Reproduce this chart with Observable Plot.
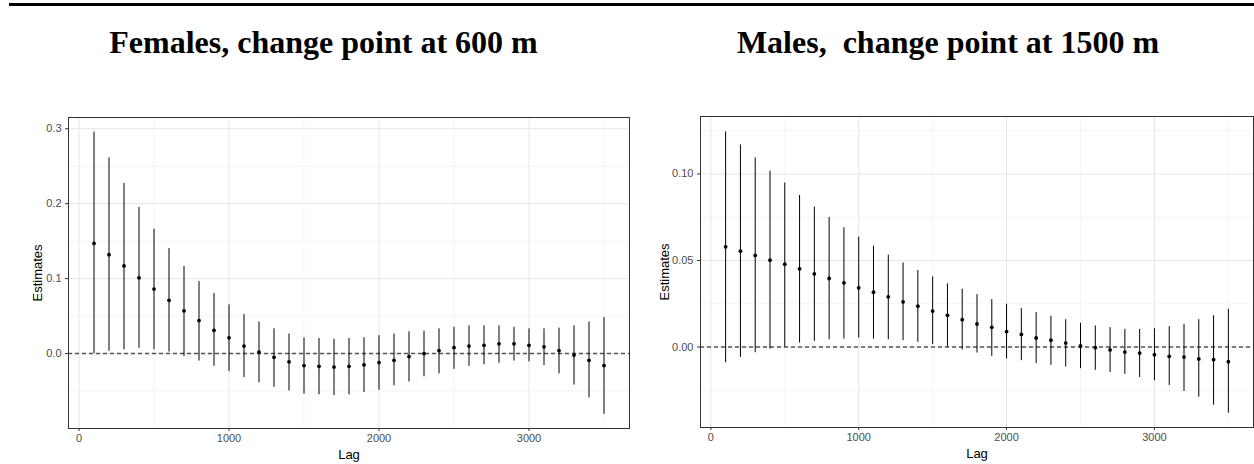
<!DOCTYPE html>
<html>
<head>
<meta charset="utf-8">
<script src="https://cdn.jsdelivr.net/npm/d3@7"></script>
<script src="https://cdn.jsdelivr.net/npm/@observablehq/plot@0.6"></script>
<style>
  html, body { margin: 0; padding: 0; background: white; }
  #page { position: relative; width: 1254px; height: 464px; overflow: hidden; background: white; }
  #rule { position: absolute; left: 9px; top: 3px; width: 1245px; height: 3px; background: black; }
  .title { position: absolute; top: 26px; font-family: "Liberation Serif", "Times New Roman", serif; font-weight: bold;
           font-size: 32px; line-height: 32px; text-align: center; white-space: pre; color: black; }
  .panel { position: absolute; top: 100px; }
</style>
</head>
<body>
<div id="page">
  <div id="rule"></div>
  <div class="title" id="t1" style="left:0px; width:647px;"></div>
  <div class="title" id="t2" style="left:642px; width:612px;"></div>
  <div class="panel" id="p1" style="left:0px;"></div>
  <div class="panel" id="p2" style="left:640px;"></div>
</div>
<script>
// ---- data ----
const titles = ["Females, change point at 600 m", "Males,  change point at 1500 m"];
const xLabel = "Lag";
const yLabel = "Estimates";

const lags = [100,200,300,400,500,600,700,800,900,1000,1100,1200,1300,1400,1500,1600,1700,1800,
              1900,2000,2100,2200,2300,2400,2500,2600,2700,2800,2900,3000,3100,3200,3300,3400,3500];

const femaleEst = [0.147,0.132,0.117,0.101,0.086,0.071,0.057,0.044,0.031,0.021,
                   0.010,0.002,-0.005,-0.011,-0.016,-0.017,-0.018,-0.017,-0.015,-0.012,
                   -0.009,-0.004,0.000,0.004,0.008,0.010,0.011,0.013,0.013,0.011,
                   0.009,0.004,-0.002,-0.009,-0.016];
const femaleHi  = [0.2955,0.261,0.227,0.195,0.166,0.140,0.116,0.096,0.080,0.065,
                   0.052,0.042,0.033,0.026,0.021,0.020,0.019,0.020,0.021,0.024,
                   0.026,0.029,0.030,0.033,0.035,0.037,0.037,0.037,0.035,0.033,
                   0.033,0.034,0.037,0.042,0.048];
const femaleLo  = [0.000,0.003,0.005,0.007,0.005,0.002,-0.004,-0.010,-0.017,-0.024,
                   -0.032,-0.039,-0.045,-0.050,-0.054,-0.055,-0.056,-0.055,-0.052,-0.049,
                   -0.043,-0.038,-0.031,-0.027,-0.021,-0.017,-0.015,-0.013,-0.010,-0.011,
                   -0.016,-0.027,-0.042,-0.059,-0.081];

const maleEst = [0.0579,0.0554,0.0529,0.0502,0.0479,0.0452,0.0423,0.0396,0.0371,0.0342,
                 0.0317,0.0290,0.0261,0.0236,0.0208,0.0183,0.0158,0.0133,0.0114,0.0089,
                 0.0073,0.0052,0.0039,0.0023,0.0006,-0.0004,-0.0017,-0.0029,-0.0035,-0.0044,
                 -0.0054,-0.0058,-0.0069,-0.0073,-0.0085];
const maleHi  = [0.1243,0.1168,0.1093,0.1017,0.0948,0.0876,0.0809,0.0749,0.0689,0.0635,
                 0.0583,0.0531,0.0486,0.0442,0.0405,0.0365,0.0334,0.0303,0.0274,0.0247,
                 0.0222,0.0199,0.0178,0.0158,0.0137,0.0122,0.0112,0.0102,0.0102,0.0106,
                 0.0118,0.0131,0.0158,0.0181,0.0218];
const maleLo  = [-0.0091,-0.0060,-0.0033,-0.0012,0.0000,0.0023,0.0033,0.0042,0.0046,0.0052,
                 0.0046,0.0042,0.0037,0.0027,0.0014,0.0000,-0.0017,-0.0035,-0.0054,-0.0069,
                 -0.0079,-0.0095,-0.0106,-0.0116,-0.0125,-0.0135,-0.0147,-0.0158,-0.0176,-0.0195,
                 -0.0222,-0.0257,-0.0290,-0.0336,-0.0382];

const xTicks = [0, 1000, 2000, 3000];
const xMinor = [500, 1500, 2500, 3500];
const femaleYTicks = [0, 0.1, 0.2, 0.3];
const femaleYMinor = [-0.05, 0.05, 0.15, 0.25];
const maleYTicks = [0, 0.05, 0.10];
const maleYMinor = [-0.025, 0.025, 0.075, 0.125];

// ---- drawing ----
function panel(est, lo, hi, opts) {
  const data = lags.map((lag, i) => ({lag, est: est[i], lo: lo[i], hi: hi[i]}));
  const gridMinor = {stroke: "#efefef", strokeOpacity: 1, strokeWidth: 0.7};
  const gridMajor = {stroke: "#e6e6e6", strokeOpacity: 1, strokeWidth: 1};
  return Plot.plot({
    width: opts.width,
    height: 364,
    marginTop: opts.mt, marginRight: opts.mr, marginBottom: opts.mb, marginLeft: opts.ml,
    style: {fontFamily: "'Liberation Sans', Arial, sans-serif", fontSize: "11px", background: "white", overflow: "visible"},
    x: {domain: [-70, 3670]},
    y: {domain: opts.yDomain},
    marks: [
      Plot.gridX(xMinor, gridMinor),
      Plot.gridY(opts.yMinor, gridMinor),
      Plot.gridX(xTicks, gridMajor),
      Plot.gridY(opts.yTicks, gridMajor),
      Plot.ruleY([0], {stroke: "#555", strokeWidth: 1.4, strokeDasharray: "4,3"}),
      Plot.ruleX(data, {x: "lag", y1: "lo", y2: "hi", stroke: "black", strokeWidth: 1}),
      Plot.dot(data, {x: "lag", y: "est", r: 1.9, fill: "black", stroke: "none"}),
      Plot.frame({stroke: "#333", strokeWidth: 1}),
      Plot.axisX(xTicks, {tickFormat: d3.format("d"), tickSize: 3, tickPadding: 3, stroke: "#333", fill: "#4d4d4d", fontSize: 11, label: null}),
      Plot.axisX([], {label: xLabel, labelAnchor: "center", labelArrow: false, labelOffset: 30, fill: "black", fontSize: 13, tickSize: 0}),
      Plot.axisY(opts.yTicks, {tickFormat: d3.format(opts.fmt), tickSize: 3, tickPadding: 4, stroke: "#333", fill: "#4d4d4d", fontSize: 11, label: null}),
      Plot.axisY([], {label: yLabel, labelAnchor: "center", labelArrow: false, labelOffset: opts.lo, fill: "black", fontSize: 13, tickSize: 0})
    ]
  });
}

document.getElementById("t1").textContent = titles[0];
document.getElementById("t2").textContent = titles[1];

document.getElementById("p1").appendChild(panel(femaleEst, femaleLo, femaleHi, {
  width: 640, mt: 17, mr: 11, mb: 36, ml: 68,
  yDomain: [-0.1, 0.315], yTicks: femaleYTicks, yMinor: femaleYMinor, fmt: ".1f", lo: 36
}));
document.getElementById("p2").appendChild(panel(maleEst, maleLo, maleHi, {
  width: 614, mt: 16, mr: 1, mb: 37, ml: 60,
  yDomain: [-0.0465, 0.1332], yTicks: maleYTicks, yMinor: maleYMinor, fmt: ".2f", lo: 41
}));
</script>
</body>
</html>
